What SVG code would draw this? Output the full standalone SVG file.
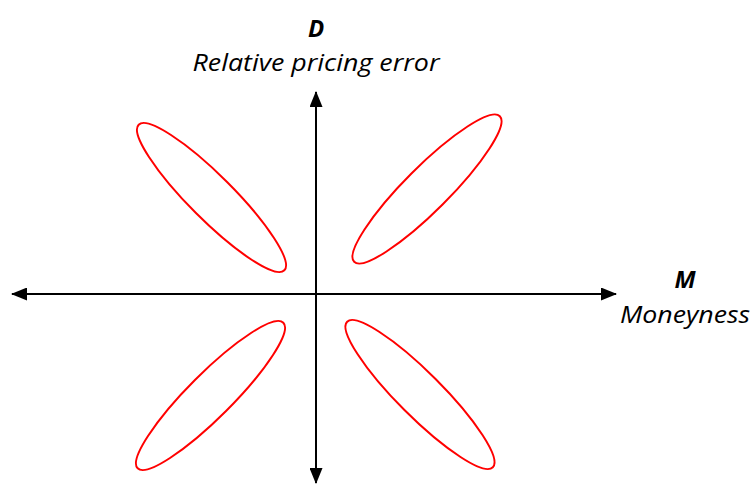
<svg xmlns="http://www.w3.org/2000/svg" width="755" height="484" viewBox="0 0 755 484">
<style>
.ell{fill:none;stroke:#ff0000;stroke-width:2}
.ax{stroke:#000;stroke-width:2;fill:none}
.lbl{font-family:"Open Sans","Noto Sans",sans-serif;font-style:italic;font-size:24px;fill:#000}
.b{font-weight:bold}
</style>
<defs>
<marker id="arr" viewBox="0 0 16 13" refX="15" refY="6.5" markerWidth="16" markerHeight="13" markerUnits="userSpaceOnUse" orient="auto">
<path d="M0,0 L16,6.5 L0,13 Z" fill="#000"/>
</marker>
</defs>
<g id="connectors">
<line class="ax" x1="316" y1="294" x2="12" y2="294" marker-end="url(#arr)"/>
<line class="ax" x1="316" y1="294" x2="616" y2="294" marker-end="url(#arr)"/>
<line class="ax" x1="316" y1="294" x2="316" y2="92" marker-end="url(#arr)"/>
<line class="ax" x1="316" y1="294" x2="316" y2="483" marker-end="url(#arr)"/>
</g>
<g id="ellipse-ul"><ellipse class="ell" cx="211.5" cy="197.5" rx="103" ry="22" transform="rotate(45 211.5 197.5)"/></g>
<g id="ellipse-ur"><ellipse class="ell" cx="427" cy="189" rx="103" ry="22" transform="rotate(-45 427 189)"/></g>
<g id="ellipse-ll"><ellipse class="ell" cx="210.5" cy="395.5" rx="103" ry="22" transform="rotate(-45 210.5 395.5)"/></g>
<g id="ellipse-lr"><ellipse class="ell" cx="420" cy="394.5" rx="103" ry="22" transform="rotate(45 420 394.5)"/></g>
<g id="label-d">
<text class="lbl b" x="316" y="37" text-anchor="middle">D</text>
<text class="lbl" x="316" y="71" text-anchor="middle" textLength="247" lengthAdjust="spacingAndGlyphs">Relative pricing error</text>
</g>
<g id="label-m">
<text class="lbl b" x="685" y="288" text-anchor="middle">M</text>
<text class="lbl" x="685" y="323" text-anchor="middle" textLength="130" lengthAdjust="spacingAndGlyphs">Moneyness</text>
</g>
</svg>
